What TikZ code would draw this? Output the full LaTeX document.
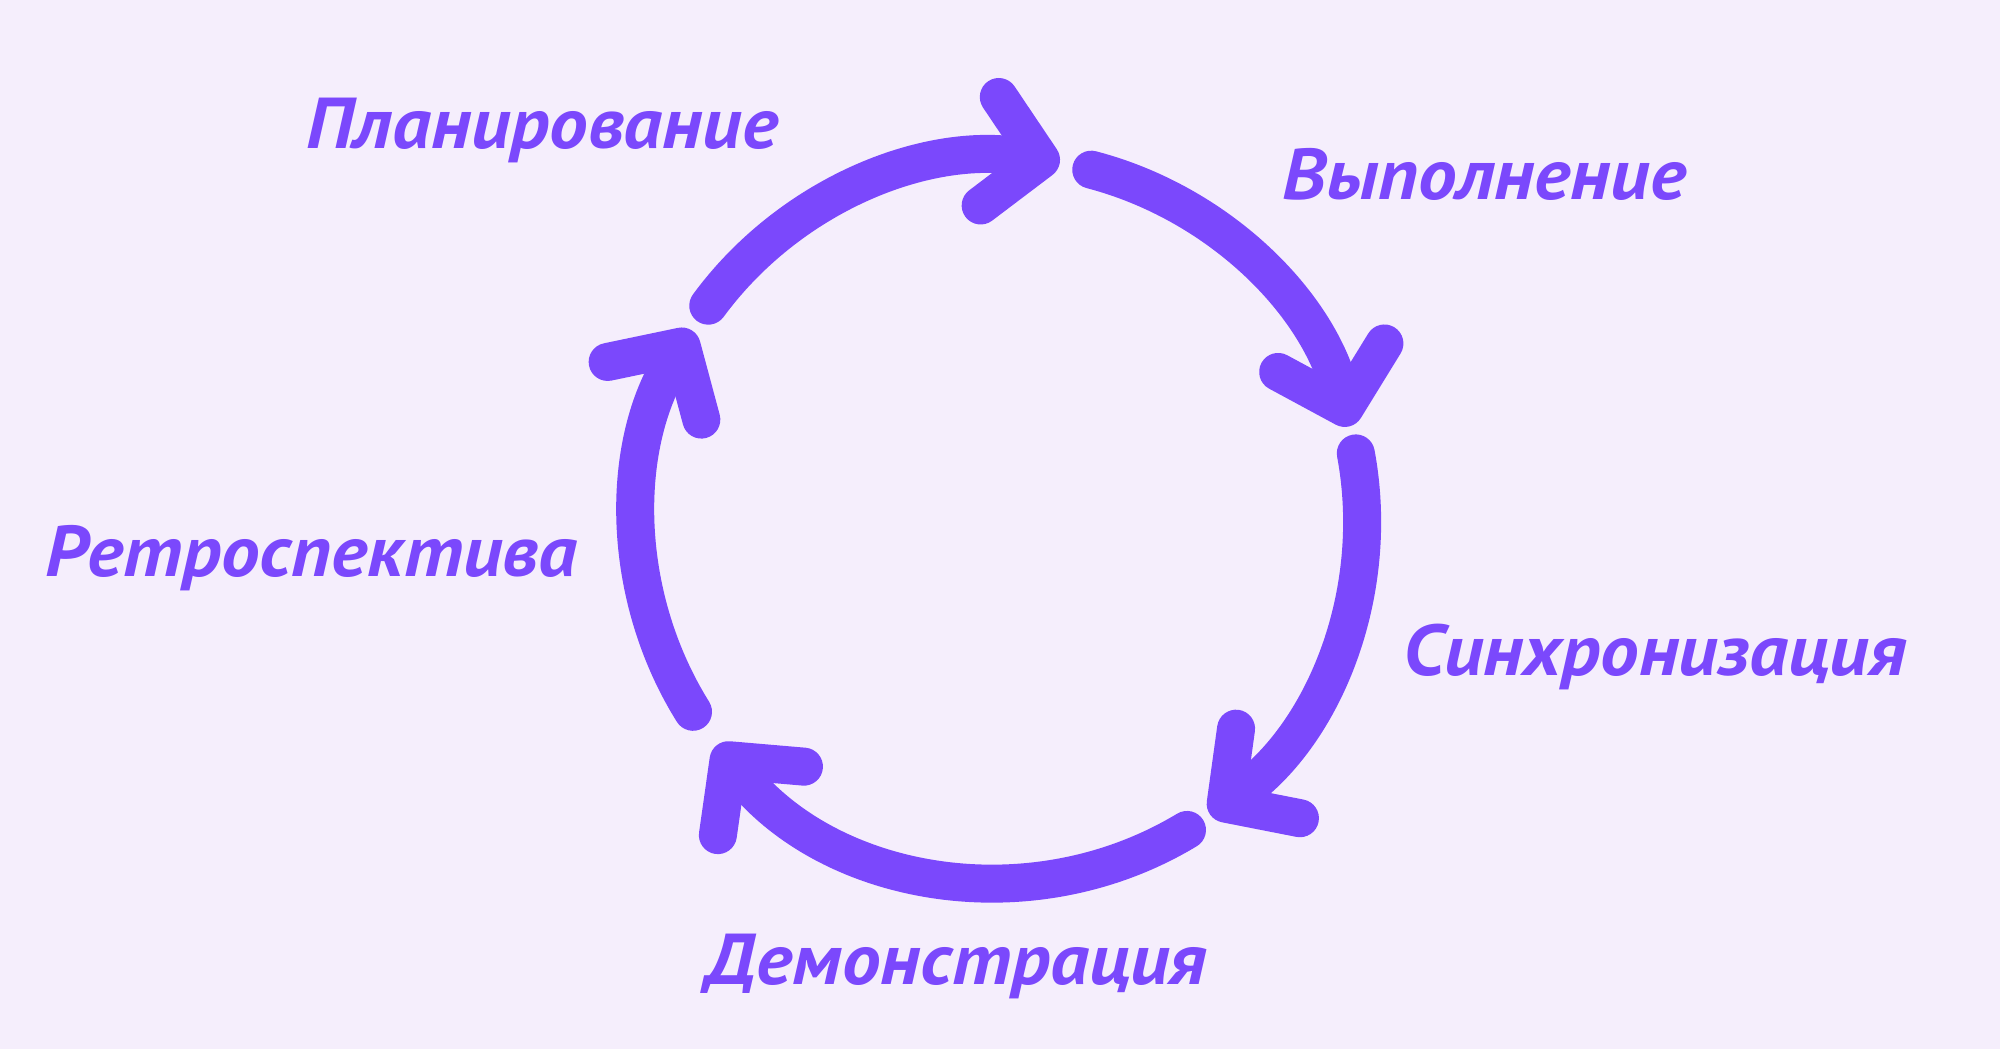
\documentclass[tikz,border=0pt]{standalone}
\usepackage{fontspec}
\setmainfont{PT Sans}[FakeStretch=1.07]
\usepackage{tikz}
\usetikzlibrary{arrows.meta, positioning}

\definecolor{scrumbg}{HTML}{F5EEFC}
\definecolor{scrumviolet}{HTML}{7B48FC}

\begin{document}
\begin{tikzpicture}[
    >={Straight Barb[length=5.2mm, width=11mm, round]},
    flow/.style={draw=scrumviolet, line width=3.8mm, line cap=round, ->},
    phase/.style={anchor=base west, inner sep=0pt, text=scrumviolet,
        font=\fontsize{20.5}{24}\selectfont\bfseries\itshape}
]

    % Background -------------------------------------------------

    \fill[scrumbg] (0,0) rectangle (20,10.49);
    \useasboundingbox (0,0) rectangle (20,10.49);

    % Cycle ------------------------------------------------------

    \coordinate (c) at (10.00,5.29);

    \draw[flow] (c) ++(143.7:3.62) arc[start angle=143.7, end angle=80.5, radius=3.62];
    \draw[flow] (c) ++(75.4:3.62) arc[start angle=75.4, end angle=15, radius=3.62];
    \draw[flow] (c) ++(10.6:3.62) arc[start angle=10.6, end angle=-54.5, radius=3.62];
    \draw[flow] (c) ++(-58.9:3.62) arc[start angle=-58.9, end angle=-141.5, radius=3.62];
    \draw[flow] (c) ++(212:3.62) arc[start angle=212, end angle=148.4, radius=3.62];

    % Labels -----------------------------------------------------

    \node[phase] (plan) at (3.06,9.00) {Планирование};
    \node[phase] (exec) at (12.82,8.49) {Выполнение};
    \node[phase] (sync) at (14.03,3.73) {Синхронизация};
    \node[phase] (demo) at (7.05,0.64) {Демонстрация};
    \node[phase] (retro) at (0.45,4.72) {Ретроспектива};

\end{tikzpicture}
\end{document}
